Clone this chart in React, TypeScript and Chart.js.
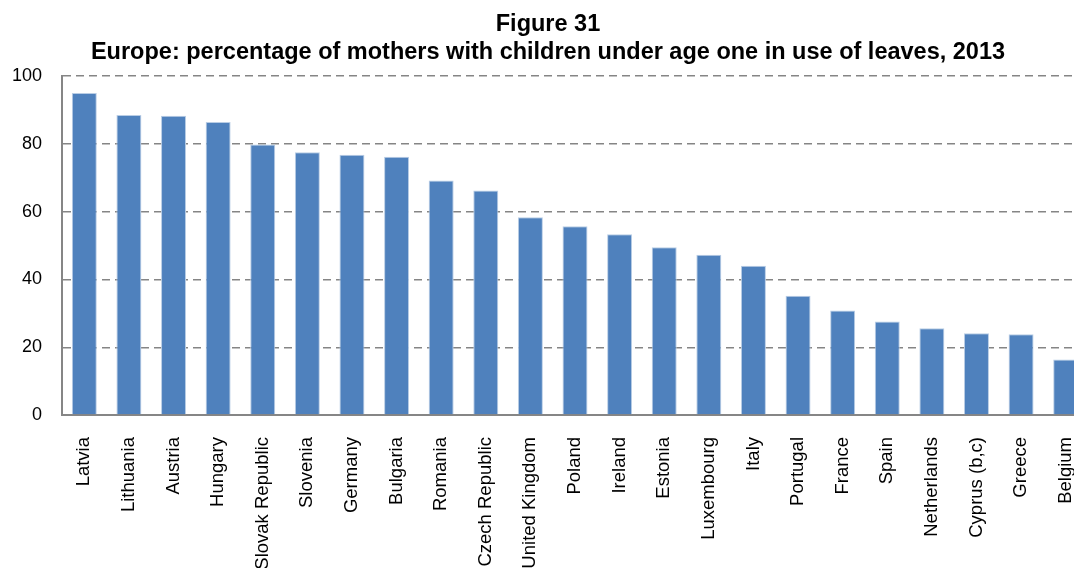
import React, { useEffect, useRef } from "react";
import { Chart, registerables } from "chart.js";

Chart.register(...registerables);

const titleLines = [
  "Figure 31",
  "Europe: percentage of mothers with children under age one in use of leaves, 2013",
];

const countries = [
  "Latvia",
  "Lithuania",
  "Austria",
  "Hungary",
  "Slovak Republic",
  "Slovenia",
  "Germany",
  "Bulgaria",
  "Romania",
  "Czech Republic",
  "United Kingdom",
  "Poland",
  "Ireland",
  "Estonia",
  "Luxembourg",
  "Italy",
  "Portugal",
  "France",
  "Spain",
  "Netherlands",
  "Cyprus (b,c)",
  "Greece",
  "Belgium",
];

const shares = [
  95.0, 88.5, 88.3, 86.4, 79.8, 77.5, 76.8, 76.2, 69.2, 66.2, 58.3, 55.7, 53.3,
  49.5, 47.3, 44.0, 35.2, 30.8, 27.6, 25.6, 24.1, 23.8, 16.4,
];

const yTicks = [0, 20, 40, 60, 80, 100];

const FONT = "'Liberation Sans', Arial, Helvetica, sans-serif";

export default function App() {
  const ref = useRef<HTMLCanvasElement | null>(null);

  useEffect(() => {
    if (!ref.current) return;
    const chart = new Chart(ref.current, {
      type: "bar",
      data: {
        labels: countries,
        datasets: [
          {
            data: shares,
            backgroundColor: "#4F81BD",
            borderColor: "#B9CDE5",
            borderWidth: 1,
            categoryPercentage: 1,
            barPercentage: 0.56,
          },
        ],
      },
      options: {
        responsive: true,
        maintainAspectRatio: false,
        animation: false,
        layout: { padding: 0 },
        plugins: {
          legend: { display: false },
          tooltip: { enabled: false },
          title: {
            display: true,
            text: titleLines,
            color: "#000",
            font: { family: FONT, size: 23.5, weight: "bold", lineHeight: 1.2 },
            padding: { top: 2, bottom: 9.6 },
          },
        },
        scales: {
          x: {
            grid: { display: false, drawTicks: false },
            border: { display: true, color: "#868686", width: 2 },
            ticks: {
              autoSkip: false,
              minRotation: 90,
              maxRotation: 90,
              padding: 22,
              color: "#000",
              font: { family: FONT, size: 18.5 },
            },
            afterFit: (s: any) => {
              s.height = 153;
              s.paddingLeft = 0;
              s.paddingRight = 0;
            },
          },
          y: {
            min: 0,
            max: 100,
            afterBuildTicks: (s: any) => {
              s.ticks = yTicks.map((v) => ({ value: v }));
            },
            grid: { color: "#858585", lineWidth: 1.4, drawTicks: false },
            border: { display: true, color: "#868686", width: 2, dash: [8, 5] },
            ticks: {
              padding: 20,
              color: "#000",
              font: { family: FONT, size: 18 },
            },
            afterFit: (s: any) => {
              s.width = 54;
            },
          },
        },
      },
    });
    return () => chart.destroy();
  }, []);

  return (
    <div
      style={{
        position: "fixed",
        top: 0,
        left: 0,
        width: "100vw",
        height: "100vh",
        overflow: "hidden",
        background: "#fff",
      }}
    >
      <div
        style={{
          position: "absolute",
          left: 8,
          top: 8,
          width: 1080,
          height: 560,
        }}
      >
        <canvas ref={ref} />
      </div>
    </div>
  );
}
